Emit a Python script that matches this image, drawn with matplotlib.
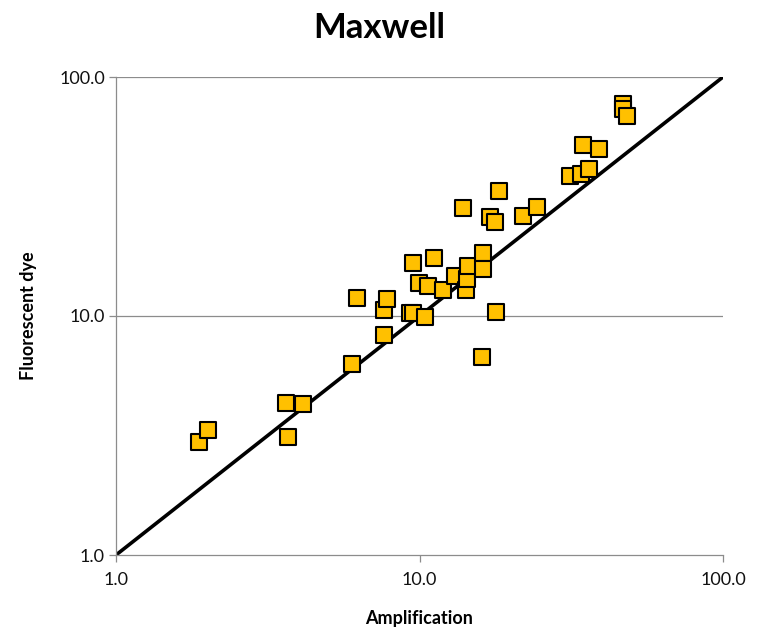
import matplotlib
matplotlib.use("Agg")
import matplotlib.pyplot as plt
from matplotlib.ticker import FixedLocator, NullLocator, FixedFormatter

amplification = [1.88, 2.01, 3.63, 3.69, 4.13, 5.99, 6.22, 7.64, 7.82, 7.64,
                 9.30, 9.52, 10.4, 9.52, 9.96, 10.7, 11.2, 11.95, 13.1, 14.2,
                 14.3, 14.45, 16.2, 16.2, 13.9, 17.1, 17.7, 18.3, 21.9, 24.4,
                 17.9, 16.1, 31.3, 34.1, 36.2, 34.6, 39.0, 46.8, 46.8, 48.3]
fluorescent = [2.97, 3.33, 4.33, 3.12, 4.28, 6.30, 11.9, 10.6, 11.8, 8.33,
               10.3, 10.3, 9.9, 16.7, 13.7, 13.4, 17.5, 12.8, 14.7, 12.85,
               14.3, 16.2, 18.3, 15.7, 28.3, 26.0, 24.7, 33.3, 26.2, 28.6,
               10.4, 6.74, 38.5, 39.3, 41.2, 51.9, 50.0, 77.1, 73.5, 68.7]
identity = [1.0, 100.0]
tick_values = [1.0, 10.0, 100.0]
tick_labels = ["1.0", "10.0", "100.0"]

plt.rcParams['font.family'] = ['Lato', 'DejaVu Sans']

fig = plt.figure(figsize=(7.58, 6.29), dpi=100)
ax = fig.add_axes([116/758, 1-555/629, (723-116)/758, (555-77)/629])
ax.set_xscale('log')
ax.set_yscale('log')
ax.set_xlim(1, 100)
ax.set_ylim(1, 100)

for v in tick_values[1:]:
    ax.axhline(v, color='#8c8c8c', lw=0.9, zorder=1)

ax.plot(identity, identity, color='black', lw=2.6, zorder=2, solid_capstyle='round')
ax.scatter(amplification, fluorescent, marker='s', s=140, facecolor='#FFC000',
           edgecolor='black', linewidths=1.5, zorder=3)

for axis in (ax.xaxis, ax.yaxis):
    axis.set_major_locator(FixedLocator(tick_values))
    axis.set_major_formatter(FixedFormatter(tick_labels))
    axis.set_minor_locator(NullLocator())

for s in ['top', 'right']:
    ax.spines[s].set_visible(False)
for s in ['left', 'bottom']:
    ax.spines[s].set_color('#8c8c8c')
    ax.spines[s].set_linewidth(0.9)
ax.tick_params(axis='both', which='major', length=5, width=0.9, color='#8c8c8c',
               labelsize=13, labelcolor='#111111')
ax.tick_params(axis='x', pad=7)
ax.tick_params(axis='y', pad=3)

ax.set_xlabel("Amplification", fontsize=13, fontweight='bold', labelpad=16)
ax.set_ylabel("Fluorescent dye", fontsize=13, fontweight='bold', labelpad=16)
fig.text(0.5, 1-28/629, "Maxwell", ha='center', va='center', fontsize=25, fontweight='bold')

fig.savefig("out.png", dpi=100)
